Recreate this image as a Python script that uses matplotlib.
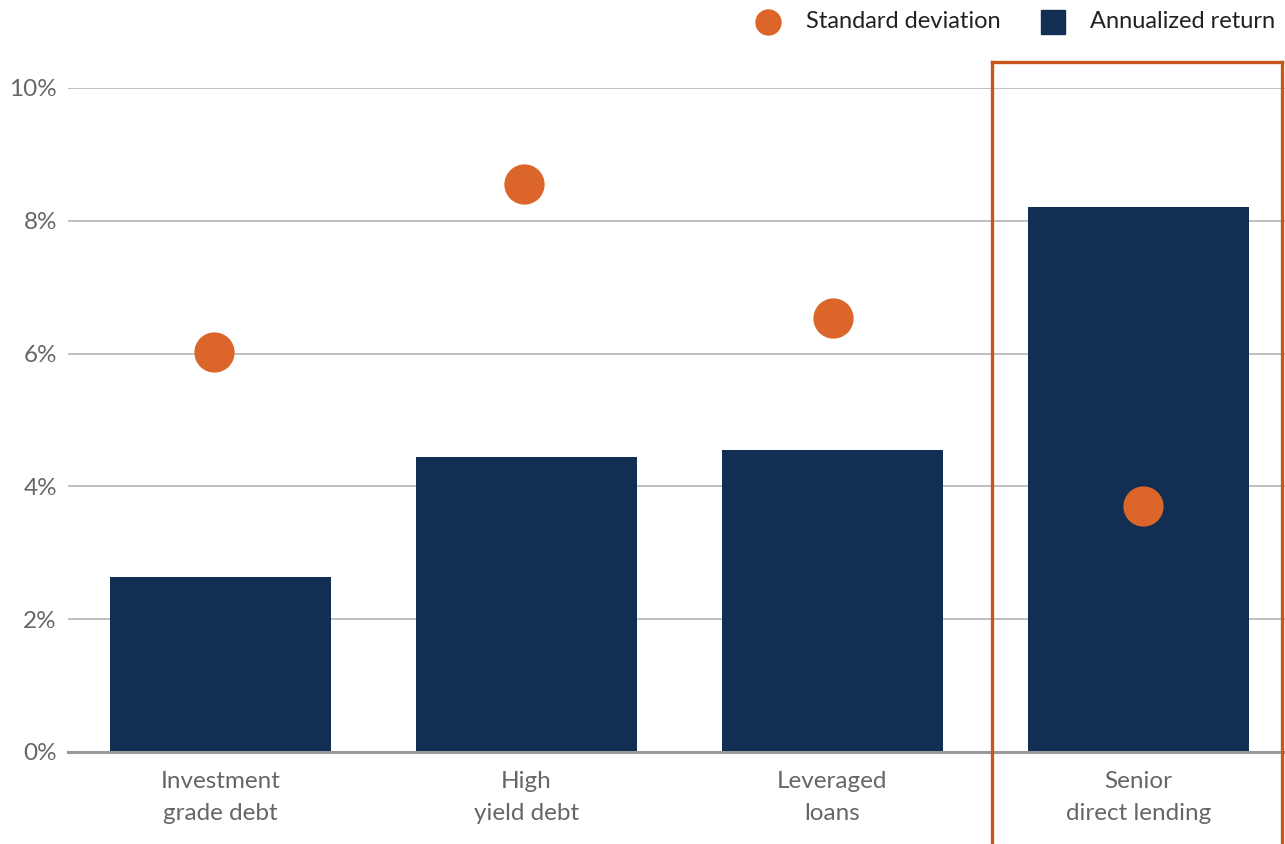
import matplotlib
matplotlib.use("Agg")
import matplotlib.pyplot as plt
from matplotlib.lines import Line2D
from matplotlib.patches import Rectangle

categories = ["Investment\ngrade debt", "High\nyield debt", "Leveraged\nloans", "Senior\ndirect lending"]
annualized_return = [2.63, 4.44, 4.55, 8.21]
standard_deviation = [6.02, 8.55, 6.54, 3.70]
y_ticks = [0, 2, 4, 6, 8, 10]
y_tick_labels = ["0%", "2%", "4%", "6%", "8%", "10%"]

NAVY = "#122e52"
ORANGE = "#dc6529"
BOX = "#c8561d"

plt.rcParams["font.family"] = ["Lato", "DejaVu Sans"]

W, H = 1285, 844
fig = plt.figure(figsize=(W / 100, H / 100), dpi=100)
rect = [68 / W, (H - 752) / H, (W - 68) / W, (752 - 88) / H]
ax = fig.add_axes(rect)

x = list(range(len(categories)))
ax.bar(x, annualized_return, width=0.722, color=NAVY, zorder=2)

ax.set_xlim(-0.498, 3.479)
ax.set_ylim(0, 10)
ax.set_yticks(y_ticks)
ax.set_yticklabels(y_tick_labels)
ax.set_xticks(x)
ax.set_xticklabels(categories, linespacing=1.6)
ax.tick_params(axis="both", length=0, labelsize=17.5, labelcolor="#666666")
ax.tick_params(axis="y", pad=8)
ax.tick_params(axis="x", pad=14)

for yv in y_ticks[1:]:
    ax.axhline(yv, color="#b5b5b5", lw=1.2, zorder=1)
ax.axhline(0, color="#9a9a9a", lw=2.2, zorder=4, clip_on=False)

for s in ax.spines.values():
    s.set_visible(False)

# dots sit on their own, slightly wider category spacing
ax_dots = fig.add_axes(rect, sharey=ax)
ax_dots.patch.set_visible(False)
ax_dots.scatter(x, standard_deviation, s=840, color=ORANGE, zorder=3, linewidths=0)
ax_dots.set_xlim(-0.4714, 3.458)
ax_dots.axis("off")

# highlight frame around the last category, open at the bottom
x0, x1 = 2.521, 3.469
y_top, y_bot = 10.39, -1.5
for xs, ys in [([x0, x0], [y_bot, y_top]), ([x0, x1], [y_top, y_top]), ([x1, x1], [y_top, y_bot])]:
    ax.plot(xs, ys, color=BOX, lw=2.4, clip_on=False, zorder=5, solid_capstyle="projecting")

# legend
fig.add_artist(Line2D([768 / W], [1 - 22 / H], marker="o", markersize=19, color=ORANGE,
                      markeredgewidth=0, linestyle="none", transform=fig.transFigure))
fig.text(806 / W, 1 - 22 / H, "Standard deviation", fontsize=17, color="#222222",
         va="center", ha="left")
fig.add_artist(Rectangle((1041 / W, 1 - 34 / H), 24 / W, 24 / H, color=NAVY,
                         transform=fig.transFigure))
fig.text(1090 / W, 1 - 22 / H, "Annualized return", fontsize=17, color="#222222",
         va="center", ha="left")

fig.savefig("out.png", dpi=100)
